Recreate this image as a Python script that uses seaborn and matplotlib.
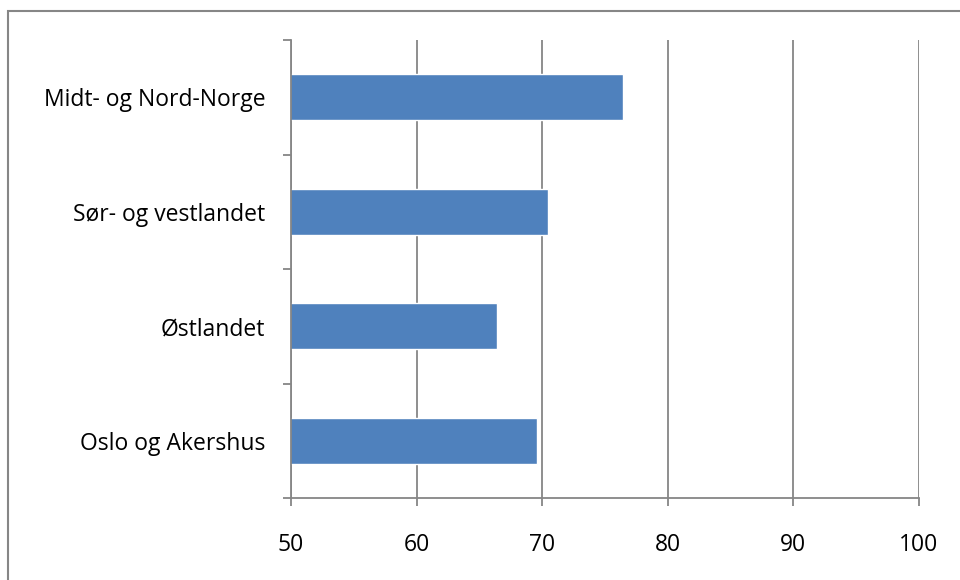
import matplotlib
matplotlib.use("Agg")
import matplotlib.pyplot as plt
import seaborn as sns
import pandas as pd
from matplotlib.patches import Rectangle
from matplotlib.ticker import MultipleLocator

# data (top to bottom)
regions = ["Midt- og Nord-Norge", "Sør- og vestlandet", "Østlandet", "Oslo og Akershus"]
values = [76.4, 70.5, 66.4, 69.6]

df = pd.DataFrame({"region": regions, "value": values})

sns.set_theme(style="white")
plt.rcParams["font.family"] = ["Open Sans", "DejaVu Sans"]

fig = plt.figure(figsize=(9.6, 5.8), dpi=100)
ax = fig.add_axes([291 / 960, 82 / 580, 628 / 960, 458 / 580])

sns.barplot(data=df, x="value", y="region", order=regions, color="#4F81BD",
            saturation=1, width=0.4, ax=ax)

ax.set_xlim(50, 100)
ax.set_ylim(len(regions) - 0.5, -0.5)
ax.xaxis.set_major_locator(MultipleLocator(10))
ax.grid(axis="x", color="#868686", linewidth=1.3)
ax.set_axisbelow(True)
ax.set_xlabel("")
ax.set_ylabel("")

for s in ["top", "right"]:
    ax.spines[s].set_visible(False)
for s in ["left", "bottom"]:
    ax.spines[s].set_color("#868686")
    ax.spines[s].set_linewidth(1.3)

# category boundary ticks on the y axis
ax.set_yticks([i - 0.5 for i in range(len(regions) + 1)], minor=True)
ax.tick_params(axis="y", which="minor", length=6, width=1.3, color="#868686", left=True)
ax.tick_params(axis="y", which="major", length=0, pad=18.5, labelsize=16.5,
               labelcolor="black")
ax.tick_params(axis="x", which="major", length=6, width=1.3, color="#868686",
               bottom=True, pad=19, labelsize=16.5, labelcolor="black")

# outer chart frame
fig.patches.append(Rectangle((8 / 960, -0.01), 1.0, (580 - 11) / 580 + 0.01,
                             transform=fig.transFigure, fill=False,
                             edgecolor="#868686", linewidth=1.5))

fig.savefig("out.png", dpi=100, facecolor="white")
